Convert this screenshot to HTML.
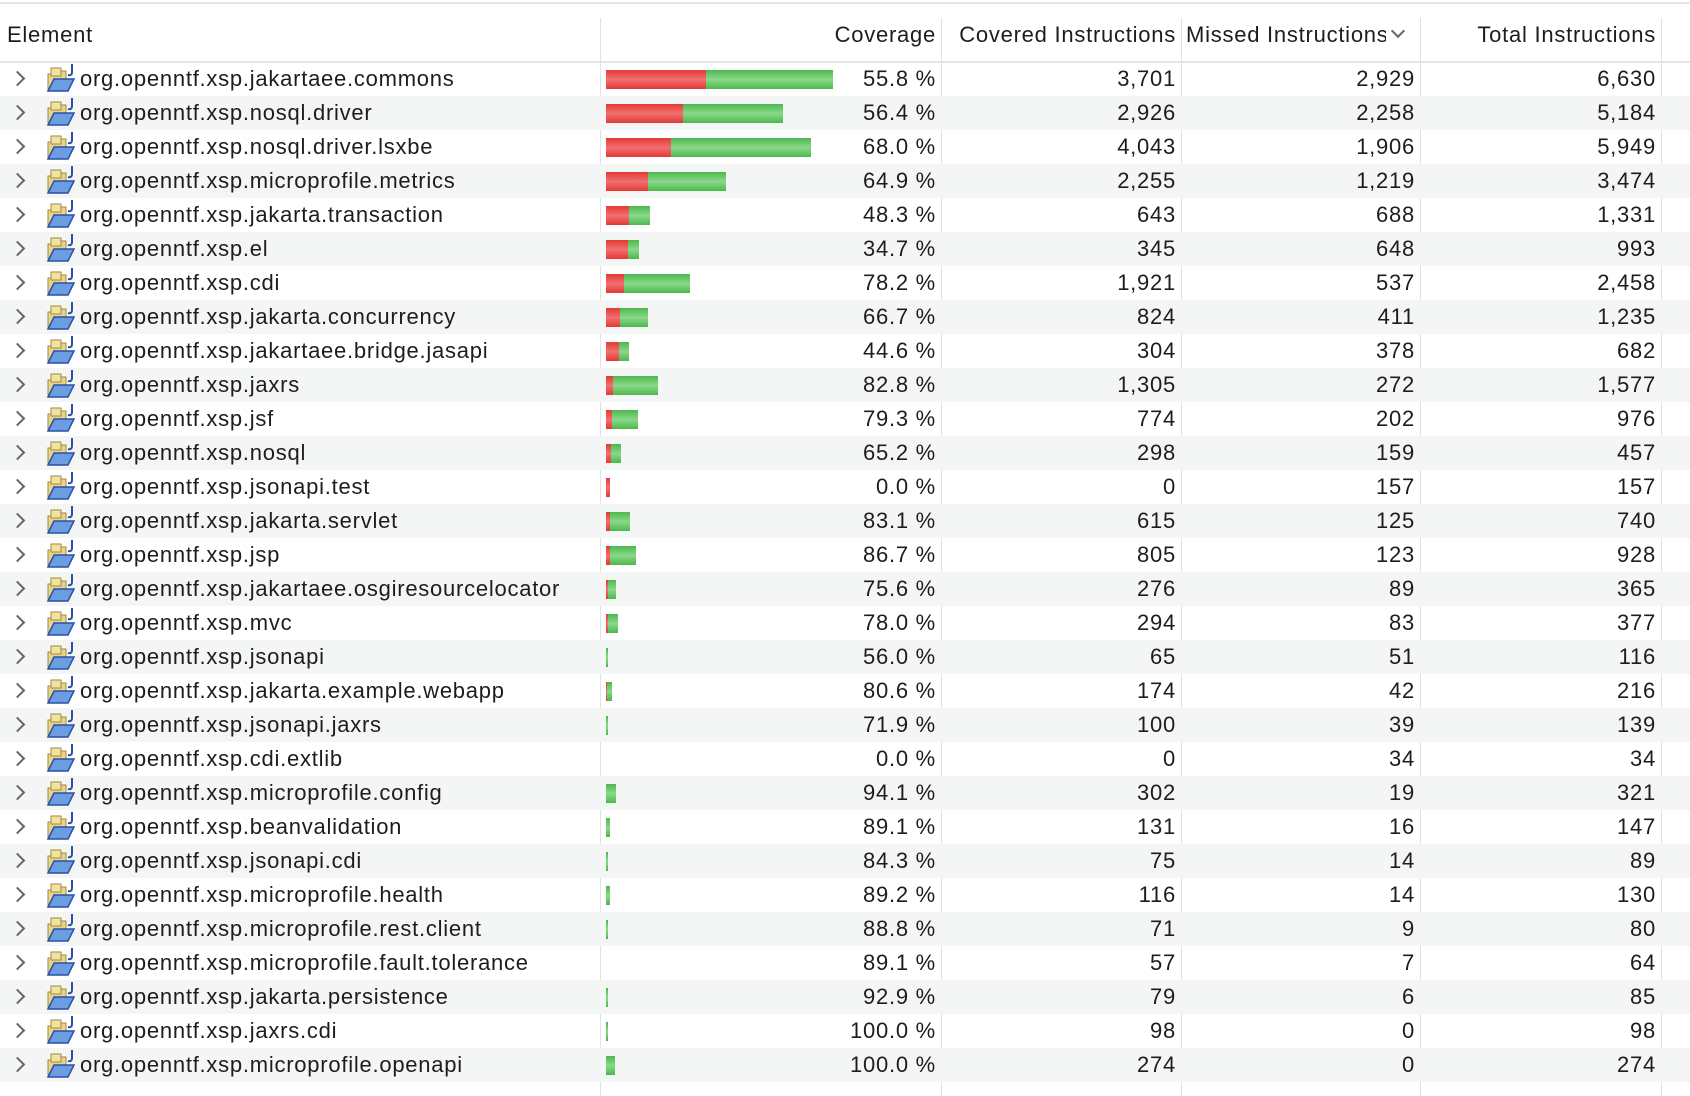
<!DOCTYPE html>
<html><head><meta charset="utf-8">
<style>
body{margin:0;width:1690px;height:1096px;background:#fff;font-family:"Liberation Sans",sans-serif;font-size:22px;letter-spacing:0.75px;color:#1d1d1d;overflow:hidden;position:relative}
.top{position:absolute;left:0;top:2px;width:1690px;height:2px;background:#e6e6e6}
.hdr{position:absolute;left:0;top:4px;width:1690px;height:57px;border-bottom:2px solid #e4e4e4}
.hdr div{position:absolute;top:18px;white-space:nowrap}
.sep{position:absolute;width:1px;background:#e2e2e2}
.row{position:absolute;left:0;width:1690px;height:34px}
.row.g{background:#f4f5f5}
.row span{position:absolute;top:4px;white-space:nowrap}
.chev{left:12px;top:11px!important;width:9px;height:9px;border-right:2px solid #666;border-bottom:2px solid #666;transform:rotate(-45deg);position:absolute}
.ic{position:absolute;left:44px;top:2px}
.nm{left:80px}
.c1{right:754px}.c2{right:514px}.c3{right:275px}.c4{right:34px}
.bar{position:absolute;left:606px;top:8px;height:19px;display:flex}
.r{height:19px;background:linear-gradient(#e53935,#f07070 50%,#e53935)}
.gr{height:19px;background:linear-gradient(#4cb84c,#8ad88a 50%,#4cb84c)}
</style></head><body>
<div class="top"></div>
<div class="hdr">
<div style="left:7px">Element</div>
<div style="right:754px">Coverage</div>
<div style="right:514px">Covered Instructions</div>
<div style="left:1186px;width:200px;overflow:hidden">Missed Instructions</div>
<div style="left:1393px;top:22px;width:8px;height:8px;border-right:2px solid #666;border-bottom:2px solid #666;transform:rotate(45deg)"></div>
<div style="right:34px">Total Instructions</div>
</div>
<svg width="0" height="0" style="position:absolute"><defs>
<g id="fi"><path d="M4 10 h8 l2 -3 h8 v20 h-18z" fill="#e8d48a" stroke="#a08a40" stroke-width="1"/><rect x="7" y="4" width="10" height="8" fill="#f2e2a0" stroke="#a08a40" stroke-width="1"/><path d="M4 27 l6 -12 h20 l-6 12z" fill="#6a9ee0" stroke="#2b4fa8" stroke-width="1.5"/><path d="M28 0 v8 q0 4 -4 3" fill="none" stroke="#2b4fa8" stroke-width="2"/></g>
</defs></svg>
<div class="sep" style="left:600px;top:18px;height:1078px"></div>
<div class="sep" style="left:941px;top:18px;height:1078px"></div>
<div class="sep" style="left:1181px;top:18px;height:1078px"></div>
<div class="sep" style="left:1420px;top:18px;height:1078px"></div>
<div class="sep" style="left:1661px;top:18px;height:1078px"></div>

<div class="row" style="top:62px"><i class="chev"></i><svg class="ic" width="34" height="30"><use href="#fi"/></svg><span class="nm">org.openntf.xsp.jakartaee.commons</span><div class="bar"><div class="r" style="width:100px"></div><div class="gr" style="width:127px"></div></div><span class="c1">55.8 %</span><span class="c2">3,701</span><span class="c3">2,929</span><span class="c4">6,630</span></div>
<div class="row g" style="top:96px"><i class="chev"></i><svg class="ic" width="34" height="30"><use href="#fi"/></svg><span class="nm">org.openntf.xsp.nosql.driver</span><div class="bar"><div class="r" style="width:77px"></div><div class="gr" style="width:100px"></div></div><span class="c1">56.4 %</span><span class="c2">2,926</span><span class="c3">2,258</span><span class="c4">5,184</span></div>
<div class="row" style="top:130px"><i class="chev"></i><svg class="ic" width="34" height="30"><use href="#fi"/></svg><span class="nm">org.openntf.xsp.nosql.driver.lsxbe</span><div class="bar"><div class="r" style="width:65px"></div><div class="gr" style="width:140px"></div></div><span class="c1">68.0 %</span><span class="c2">4,043</span><span class="c3">1,906</span><span class="c4">5,949</span></div>
<div class="row g" style="top:164px"><i class="chev"></i><svg class="ic" width="34" height="30"><use href="#fi"/></svg><span class="nm">org.openntf.xsp.microprofile.metrics</span><div class="bar"><div class="r" style="width:42px"></div><div class="gr" style="width:78px"></div></div><span class="c1">64.9 %</span><span class="c2">2,255</span><span class="c3">1,219</span><span class="c4">3,474</span></div>
<div class="row" style="top:198px"><i class="chev"></i><svg class="ic" width="34" height="30"><use href="#fi"/></svg><span class="nm">org.openntf.xsp.jakarta.transaction</span><div class="bar"><div class="r" style="width:23px"></div><div class="gr" style="width:21px"></div></div><span class="c1">48.3 %</span><span class="c2">643</span><span class="c3">688</span><span class="c4">1,331</span></div>
<div class="row g" style="top:232px"><i class="chev"></i><svg class="ic" width="34" height="30"><use href="#fi"/></svg><span class="nm">org.openntf.xsp.el</span><div class="bar"><div class="r" style="width:22px"></div><div class="gr" style="width:11px"></div></div><span class="c1">34.7 %</span><span class="c2">345</span><span class="c3">648</span><span class="c4">993</span></div>
<div class="row" style="top:266px"><i class="chev"></i><svg class="ic" width="34" height="30"><use href="#fi"/></svg><span class="nm">org.openntf.xsp.cdi</span><div class="bar"><div class="r" style="width:18px"></div><div class="gr" style="width:66px"></div></div><span class="c1">78.2 %</span><span class="c2">1,921</span><span class="c3">537</span><span class="c4">2,458</span></div>
<div class="row g" style="top:300px"><i class="chev"></i><svg class="ic" width="34" height="30"><use href="#fi"/></svg><span class="nm">org.openntf.xsp.jakarta.concurrency</span><div class="bar"><div class="r" style="width:14px"></div><div class="gr" style="width:28px"></div></div><span class="c1">66.7 %</span><span class="c2">824</span><span class="c3">411</span><span class="c4">1,235</span></div>
<div class="row" style="top:334px"><i class="chev"></i><svg class="ic" width="34" height="30"><use href="#fi"/></svg><span class="nm">org.openntf.xsp.jakartaee.bridge.jasapi</span><div class="bar"><div class="r" style="width:13px"></div><div class="gr" style="width:10px"></div></div><span class="c1">44.6 %</span><span class="c2">304</span><span class="c3">378</span><span class="c4">682</span></div>
<div class="row g" style="top:368px"><i class="chev"></i><svg class="ic" width="34" height="30"><use href="#fi"/></svg><span class="nm">org.openntf.xsp.jaxrs</span><div class="bar"><div class="r" style="width:7px"></div><div class="gr" style="width:45px"></div></div><span class="c1">82.8 %</span><span class="c2">1,305</span><span class="c3">272</span><span class="c4">1,577</span></div>
<div class="row" style="top:402px"><i class="chev"></i><svg class="ic" width="34" height="30"><use href="#fi"/></svg><span class="nm">org.openntf.xsp.jsf</span><div class="bar"><div class="r" style="width:6px"></div><div class="gr" style="width:26px"></div></div><span class="c1">79.3 %</span><span class="c2">774</span><span class="c3">202</span><span class="c4">976</span></div>
<div class="row g" style="top:436px"><i class="chev"></i><svg class="ic" width="34" height="30"><use href="#fi"/></svg><span class="nm">org.openntf.xsp.nosql</span><div class="bar"><div class="r" style="width:5px"></div><div class="gr" style="width:10px"></div></div><span class="c1">65.2 %</span><span class="c2">298</span><span class="c3">159</span><span class="c4">457</span></div>
<div class="row" style="top:470px"><i class="chev"></i><svg class="ic" width="34" height="30"><use href="#fi"/></svg><span class="nm">org.openntf.xsp.jsonapi.test</span><div class="bar"><div class="r" style="width:4px"></div></div><span class="c1">0.0 %</span><span class="c2">0</span><span class="c3">157</span><span class="c4">157</span></div>
<div class="row g" style="top:504px"><i class="chev"></i><svg class="ic" width="34" height="30"><use href="#fi"/></svg><span class="nm">org.openntf.xsp.jakarta.servlet</span><div class="bar"><div class="r" style="width:4px"></div><div class="gr" style="width:20px"></div></div><span class="c1">83.1 %</span><span class="c2">615</span><span class="c3">125</span><span class="c4">740</span></div>
<div class="row" style="top:538px"><i class="chev"></i><svg class="ic" width="34" height="30"><use href="#fi"/></svg><span class="nm">org.openntf.xsp.jsp</span><div class="bar"><div class="r" style="width:4px"></div><div class="gr" style="width:26px"></div></div><span class="c1">86.7 %</span><span class="c2">805</span><span class="c3">123</span><span class="c4">928</span></div>
<div class="row g" style="top:572px"><i class="chev"></i><svg class="ic" width="34" height="30"><use href="#fi"/></svg><span class="nm">org.openntf.xsp.jakartaee.osgiresourcelocator</span><div class="bar"><div class="r" style="width:2px"></div><div class="gr" style="width:8px"></div></div><span class="c1">75.6 %</span><span class="c2">276</span><span class="c3">89</span><span class="c4">365</span></div>
<div class="row" style="top:606px"><i class="chev"></i><svg class="ic" width="34" height="30"><use href="#fi"/></svg><span class="nm">org.openntf.xsp.mvc</span><div class="bar"><div class="r" style="width:2px"></div><div class="gr" style="width:10px"></div></div><span class="c1">78.0 %</span><span class="c2">294</span><span class="c3">83</span><span class="c4">377</span></div>
<div class="row g" style="top:640px"><i class="chev"></i><svg class="ic" width="34" height="30"><use href="#fi"/></svg><span class="nm">org.openntf.xsp.jsonapi</span><div class="bar"><div class="gr" style="width:2px"></div></div><span class="c1">56.0 %</span><span class="c2">65</span><span class="c3">51</span><span class="c4">116</span></div>
<div class="row" style="top:674px"><i class="chev"></i><svg class="ic" width="34" height="30"><use href="#fi"/></svg><span class="nm">org.openntf.xsp.jakarta.example.webapp</span><div class="bar"><div class="r" style="width:1px"></div><div class="gr" style="width:5px"></div></div><span class="c1">80.6 %</span><span class="c2">174</span><span class="c3">42</span><span class="c4">216</span></div>
<div class="row g" style="top:708px"><i class="chev"></i><svg class="ic" width="34" height="30"><use href="#fi"/></svg><span class="nm">org.openntf.xsp.jsonapi.jaxrs</span><div class="bar"><div class="gr" style="width:2px"></div></div><span class="c1">71.9 %</span><span class="c2">100</span><span class="c3">39</span><span class="c4">139</span></div>
<div class="row" style="top:742px"><i class="chev"></i><svg class="ic" width="34" height="30"><use href="#fi"/></svg><span class="nm">org.openntf.xsp.cdi.extlib</span><span class="c1">0.0 %</span><span class="c2">0</span><span class="c3">34</span><span class="c4">34</span></div>
<div class="row g" style="top:776px"><i class="chev"></i><svg class="ic" width="34" height="30"><use href="#fi"/></svg><span class="nm">org.openntf.xsp.microprofile.config</span><div class="bar"><div class="gr" style="width:10px"></div></div><span class="c1">94.1 %</span><span class="c2">302</span><span class="c3">19</span><span class="c4">321</span></div>
<div class="row" style="top:810px"><i class="chev"></i><svg class="ic" width="34" height="30"><use href="#fi"/></svg><span class="nm">org.openntf.xsp.beanvalidation</span><div class="bar"><div class="gr" style="width:4px"></div></div><span class="c1">89.1 %</span><span class="c2">131</span><span class="c3">16</span><span class="c4">147</span></div>
<div class="row g" style="top:844px"><i class="chev"></i><svg class="ic" width="34" height="30"><use href="#fi"/></svg><span class="nm">org.openntf.xsp.jsonapi.cdi</span><div class="bar"><div class="gr" style="width:2px"></div></div><span class="c1">84.3 %</span><span class="c2">75</span><span class="c3">14</span><span class="c4">89</span></div>
<div class="row" style="top:878px"><i class="chev"></i><svg class="ic" width="34" height="30"><use href="#fi"/></svg><span class="nm">org.openntf.xsp.microprofile.health</span><div class="bar"><div class="gr" style="width:4px"></div></div><span class="c1">89.2 %</span><span class="c2">116</span><span class="c3">14</span><span class="c4">130</span></div>
<div class="row g" style="top:912px"><i class="chev"></i><svg class="ic" width="34" height="30"><use href="#fi"/></svg><span class="nm">org.openntf.xsp.microprofile.rest.client</span><div class="bar"><div class="gr" style="width:2px"></div></div><span class="c1">88.8 %</span><span class="c2">71</span><span class="c3">9</span><span class="c4">80</span></div>
<div class="row" style="top:946px"><i class="chev"></i><svg class="ic" width="34" height="30"><use href="#fi"/></svg><span class="nm">org.openntf.xsp.microprofile.fault.tolerance</span><span class="c1">89.1 %</span><span class="c2">57</span><span class="c3">7</span><span class="c4">64</span></div>
<div class="row g" style="top:980px"><i class="chev"></i><svg class="ic" width="34" height="30"><use href="#fi"/></svg><span class="nm">org.openntf.xsp.jakarta.persistence</span><div class="bar"><div class="gr" style="width:2px"></div></div><span class="c1">92.9 %</span><span class="c2">79</span><span class="c3">6</span><span class="c4">85</span></div>
<div class="row" style="top:1014px"><i class="chev"></i><svg class="ic" width="34" height="30"><use href="#fi"/></svg><span class="nm">org.openntf.xsp.jaxrs.cdi</span><div class="bar"><div class="gr" style="width:2px"></div></div><span class="c1">100.0 %</span><span class="c2">98</span><span class="c3">0</span><span class="c4">98</span></div>
<div class="row g" style="top:1048px"><i class="chev"></i><svg class="ic" width="34" height="30"><use href="#fi"/></svg><span class="nm">org.openntf.xsp.microprofile.openapi</span><div class="bar"><div class="gr" style="width:9px"></div></div><span class="c1">100.0 %</span><span class="c2">274</span><span class="c3">0</span><span class="c4">274</span></div>
</body></html>
